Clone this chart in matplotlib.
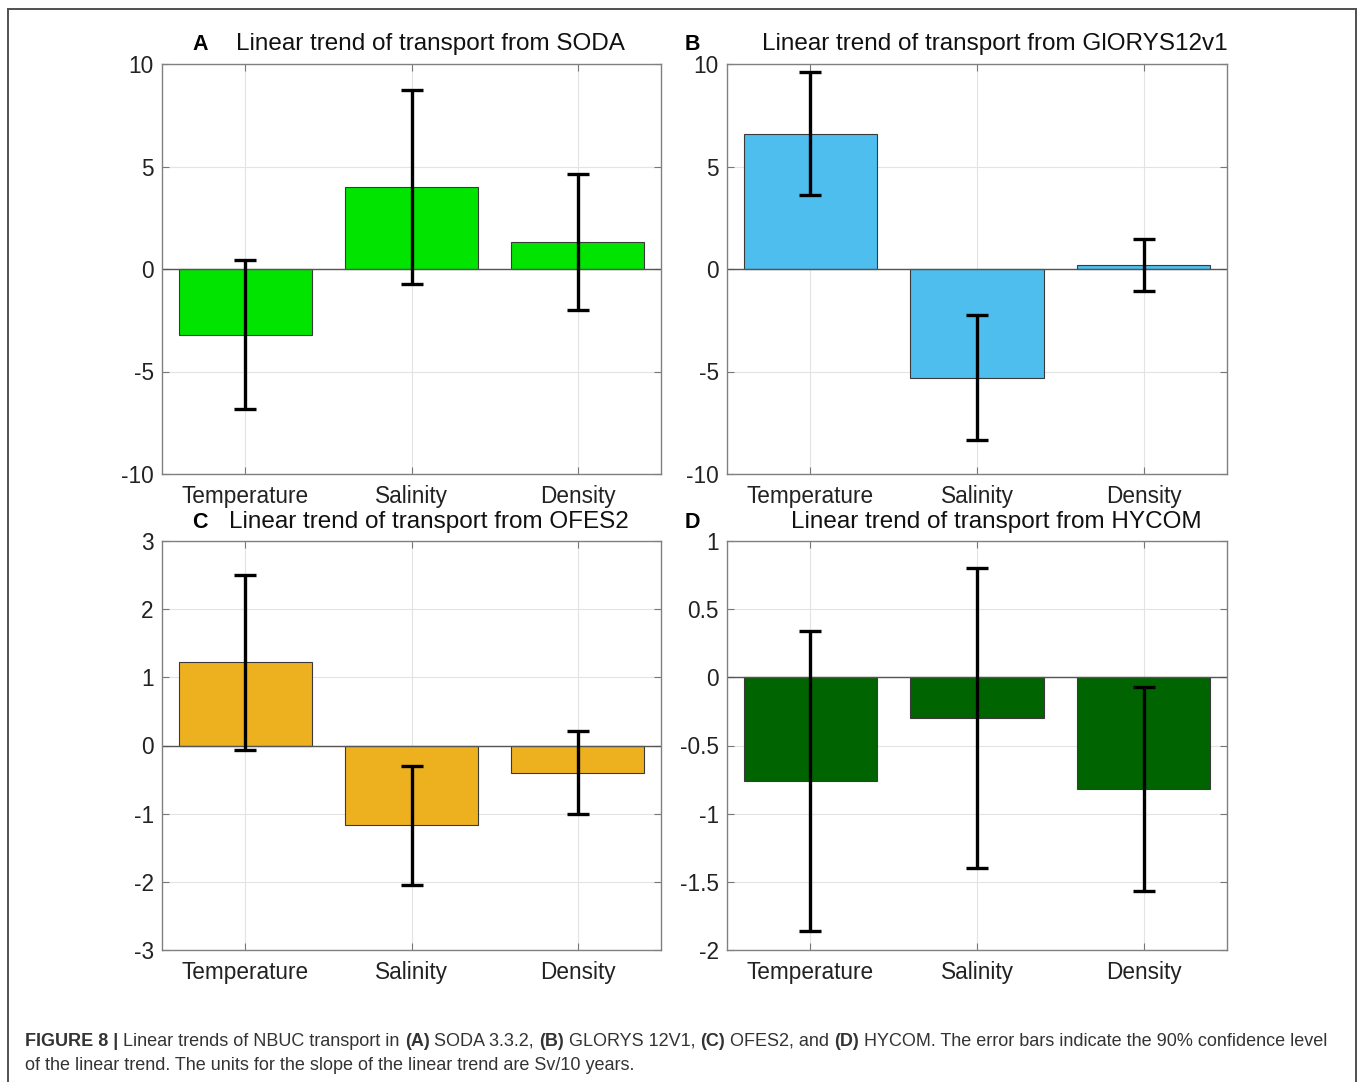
"""Bar charts of linear NBUC transport trends for four ocean reanalyses."""

import matplotlib

matplotlib.use("Agg")
import matplotlib.pyplot as plt
from matplotlib.lines import Line2D
from matplotlib.ticker import FuncFormatter

plt.rcParams["font.family"] = ["Liberation Sans", "DejaVu Sans"]
plt.rcParams["axes.unicode_minus"] = False

categories = ["Temperature", "Salinity", "Density"]

soda_trend = [-3.2, 4.0, 1.3]
soda_err = [3.62, 4.72, 3.32]

glorys_trend = [6.6, -5.3, 0.2]
glorys_err = [3.0, 3.05, 1.27]

ofes_trend = [1.22, -1.17, -0.40]
ofes_err = [1.28, 0.87, 0.61]

hycom_trend = [-0.76, -0.30, -0.82]
hycom_err = [1.10, 1.10, 0.75]

panels = [
    ("A", "Linear trend of transport from SODA", soda_trend, soda_err,
     "#00e400", (-10, 10), [-10, -5, 0, 5, 10]),
    ("B", "Linear trend of transport from GlORYS12v1", glorys_trend, glorys_err,
     "#4dbeee", (-10, 10), [-10, -5, 0, 5, 10]),
    ("C", "Linear trend of transport from OFES2", ofes_trend, ofes_err,
     "#edb120", (-3, 3), [-3, -2, -1, 0, 1, 2, 3]),
    ("D", "Linear trend of transport from HYCOM", hycom_trend, hycom_err,
     "#006400", (-2, 1), [-2, -1.5, -1, -0.5, 0, 0.5, 1]),
]

W, H = 1358, 1082
fig = plt.figure(figsize=(W / 100, H / 100), dpi=100)


def px(x, y):
    return x / W, 1 - y / H


# axes boxes in pixels: left, top, right, bottom
boxes = [(162, 64, 661, 474), (727, 64, 1227, 474),
         (162, 541, 661, 950), (727, 541, 1227, 950)]
# letter x, title centre x, text centre y
heads = [(200, 430, 44), (692, 995, 44), (200, 429, 522), (692, 996, 522)]

for (letter, title, trend, err, color, ylim, yticks), box, head in zip(panels, boxes, heads):
    l, t, r, b = box
    ax = fig.add_axes([l / W, 1 - b / H, (r - l) / W, (b - t) / H])
    xs = range(1, len(categories) + 1)
    ax.bar(xs, trend, width=0.8, color=color, edgecolor="#3a3a3a",
           linewidth=0.8, zorder=2)
    ax.errorbar(xs, trend, yerr=err, fmt="none", ecolor="black",
                elinewidth=2.4, capsize=8, capthick=2.4, zorder=3)
    ax.axhline(0, color="#555555", linewidth=1.0, zorder=2.5)
    ax.set_xlim(0.5, 3.5)
    ax.set_ylim(*ylim)
    ax.set_yticks(yticks)
    ax.yaxis.set_major_formatter(FuncFormatter(lambda v, _: f"{v:g}"))
    ax.set_xticks(list(xs))
    ax.set_xticklabels(categories)
    ax.grid(True, color="#e3e3e3", linewidth=0.8, zorder=0)
    ax.set_axisbelow(True)
    ax.tick_params(direction="in", length=5, width=0.8, color="#777777",
                   top=True, right=True, labelsize=16.3, labelcolor="#222222")
    ax.tick_params(axis="x", pad=8)
    ax.tick_params(axis="y", pad=6)
    for spine in ax.spines.values():
        spine.set_color("#808080")
        spine.set_linewidth(1.0)

    lx, tx, ty = head
    fig.text(*px(lx, ty), letter, fontsize=15.5, fontweight="bold",
             ha="center", va="center")
    fig.text(*px(tx, ty), title, fontsize=17.5, ha="center", va="center",
             color="#111111")

# outer frame, open at the bottom edge
frame = dict(color="#505050", linewidth=1.4, transform=fig.transFigure)
fig.add_artist(Line2D([7.5 / W, 1355.5 / W], [1 - 8.5 / H] * 2, **frame))
fig.add_artist(Line2D([7.5 / W] * 2, [0, 1 - 8.5 / H], **frame))
fig.add_artist(Line2D([1355.5 / W] * 2, [0, 1 - 8.5 / H], **frame))

# caption with bold run-ins
caption = [
    [("FIGURE 8 |", True), (" Linear trends of NBUC transport in ", False),
     ("(A)", True), (" SODA 3.3.2, ", False), ("(B)", True),
     (" GLORYS 12V1, ", False), ("(C)", True), (" OFES2, and ", False),
     ("(D)", True), (" HYCOM. The error bars indicate the 90% confidence level", False)],
    [("of the linear trend. The units for the slope of the linear trend are Sv/10 years.", False)],
]
renderer = fig.canvas.get_renderer()
for line, cy in zip(caption, [1041, 1066]):
    x = 25
    for piece, bold in line:
        txt = fig.text(*px(x, cy), piece, fontsize=13.0, va="center", ha="left",
                       fontweight="bold" if bold else "normal", color="#333333")
        x += txt.get_window_extent(renderer).width

fig.savefig("out.png", dpi=100)
